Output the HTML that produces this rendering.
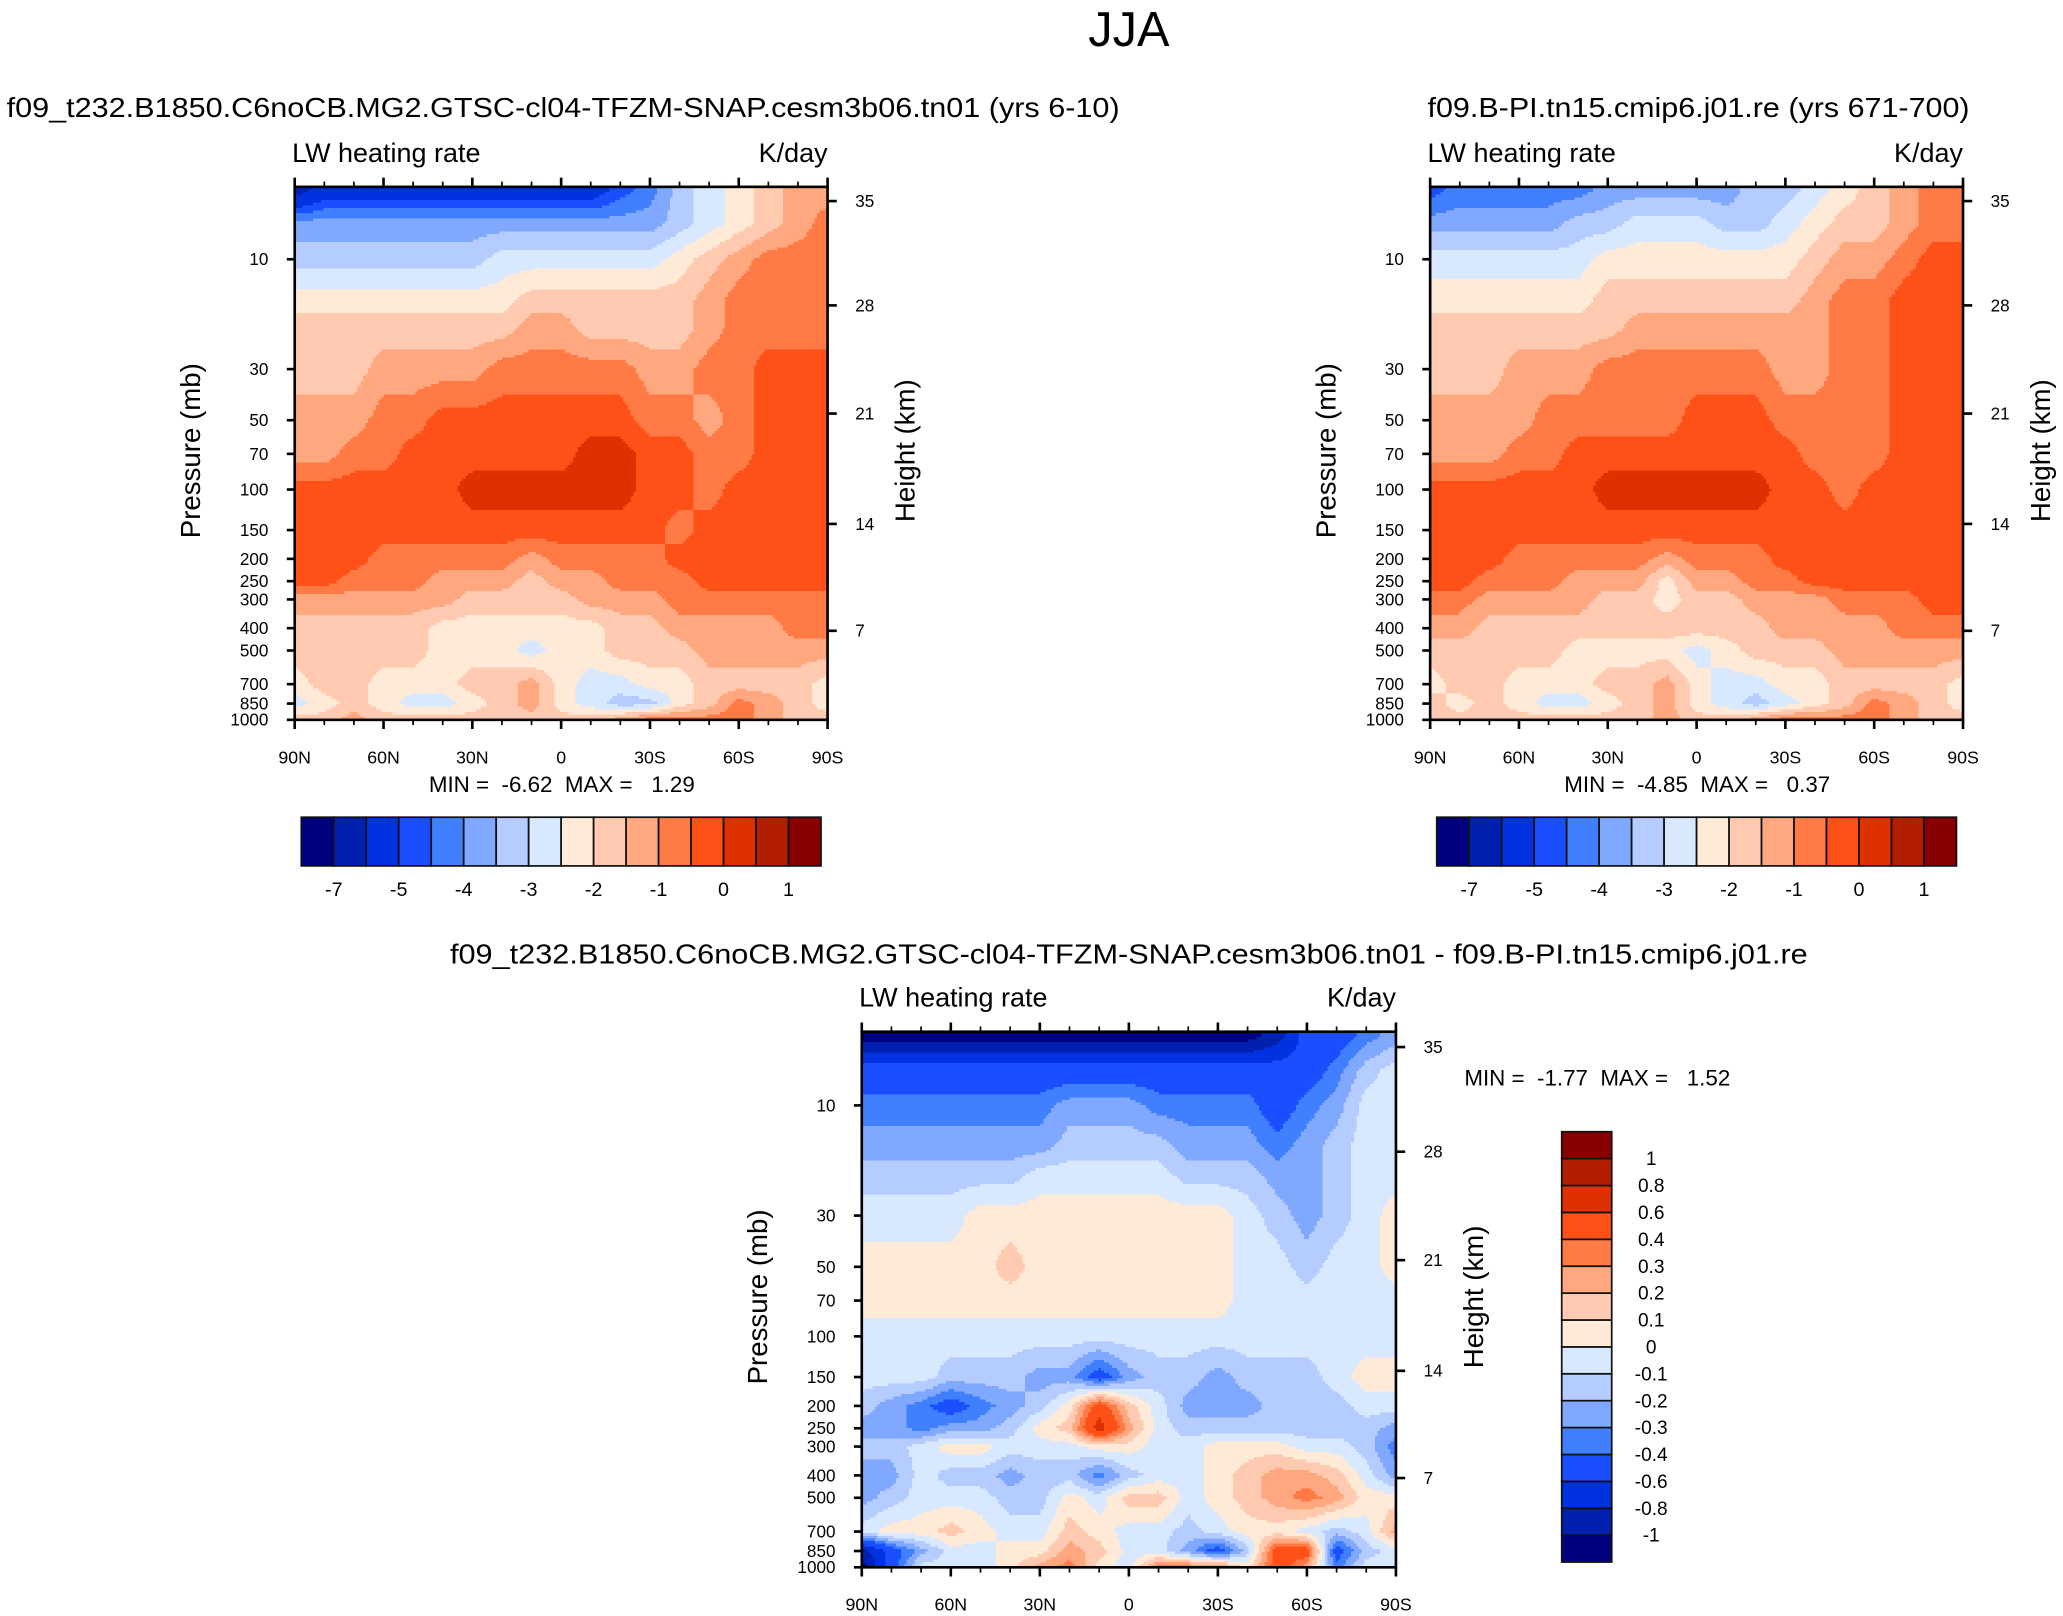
<!DOCTYPE html>
<html><head><meta charset="utf-8"><title>JJA LW heating rate</title>
<style>html,body{margin:0;padding:0;background:#fff}svg{display:block}text{font-family:"Liberation Sans",Arial,sans-serif;fill:#000}</style>
</head><body>
<svg id="fig" xmlns="http://www.w3.org/2000/svg" width="2063" height="1616" viewBox="0 0 1568 1228" preserveAspectRatio="none">
<text x="858" y="35" font-size="37" text-anchor="middle">JJA</text>
<text x="5" y="89" font-size="21" textLength="846" lengthAdjust="spacingAndGlyphs">f09_t232.B1850.C6noCB.MG2.GTSC-cl04-TFZM-SNAP.cesm3b06.tn01 (yrs 6-10)</text>
<text x="1085" y="89" font-size="21" textLength="412" lengthAdjust="spacingAndGlyphs">f09.B-PI.tn15.cmip6.j01.re (yrs 671-700)</text>
<text x="342" y="732" font-size="21" textLength="1032" lengthAdjust="spacingAndGlyphs">f09_t232.B1850.C6noCB.MG2.GTSC-cl04-TFZM-SNAP.cesm3b06.tn01 - f09.B-PI.tn15.cmip6.j01.re</text>
<g id="panels"></g>
</svg>
<script>
// ---- data ----
const latitudes = [90,80,70,60,50,40,30,20,10,0,-10,-20,-30,-40,-50,-60,-70,-80,-90];
const pressureLevels = [5,7,10,15,20,30,50,70,100,150,200,250,300,400,500,700,850,1000];
const levelsAbs = [-7,-6,-5,-4.5,-4,-3.5,-3,-2.5,-2,-1.5,-1,-0.5,0,0.5,1];
const levelsDiff = [-1,-0.8,-0.6,-0.4,-0.3,-0.2,-0.1,0,0.1,0.2,0.3,0.4,0.6,0.8,1];
const absTickLabels = ["-7","","-5","","-4","","-3","","-2","","-1","","0","","1"];
const diffTickLabels = ["-1","-0.8","-0.6","-0.4","-0.3","-0.2","-0.1","0","0.1","0.2","0.3","0.4","0.6","0.8","1"];
const pressureTicks = [10,30,50,70,100,150,200,250,300,400,500,700,850,1000];
const heightTicks = [35,28,21,14,7];
const latTickLabels = ["90N","60N","30N","0","30S","60S","90S"];
const palette = ['#000080','#0020b0','#0032e0','#1a4fff','#4080ff','#80a8ff','#b4ccff','#d8e8ff','#ffead8','#ffcab0','#ffa880','#ff7a45','#ff5018','#e03000','#b41e00','#880000'];

const caseA = [
[-6.5,-5.5,-5.5,-5.5,-5.5,-5.5,-5.5,-5.5,-5.5,-5.5,-5.5,-4.75,-4.25,-3.25,-2.75,-2.25,-1.75,-1.25,-1.25],
[-3.75,-3.75,-3.75,-3.75,-3.75,-3.75,-3.75,-3.75,-3.75,-3.75,-3.75,-3.75,-3.75,-3.25,-2.75,-2.25,-1.75,-1.25,-0.75],
[-3.25,-3.25,-3.25,-3.25,-3.25,-3.25,-3.25,-2.75,-2.75,-2.75,-2.75,-2.75,-2.75,-2.25,-1.75,-1.25,-0.75,-0.75,-0.75],
[-2.25,-2.25,-2.25,-2.25,-2.25,-2.25,-2.25,-2.25,-1.75,-1.75,-1.75,-1.75,-1.75,-1.75,-1.25,-0.75,-0.75,-0.75,-0.75],
[-1.75,-1.75,-1.75,-1.75,-1.75,-1.75,-1.75,-1.75,-1.25,-1.25,-1.75,-1.75,-1.75,-1.75,-1.25,-0.75,-0.75,-0.75,-0.75],
[-1.75,-1.75,-1.75,-1.25,-1.25,-1.25,-1.25,-0.75,-0.75,-0.75,-0.75,-0.75,-1.25,-1.25,-0.75,-0.75,-0.25,-0.25,-0.25],
[-1.25,-1.25,-1.25,-0.75,-0.75,-0.25,-0.25,-0.25,-0.25,-0.25,-0.25,-0.25,-0.75,-0.75,-1.25,-0.75,-0.25,-0.25,-0.25],
[-1.25,-1.25,-0.75,-0.75,-0.25,-0.25,-0.25,-0.25,-0.25,-0.25,0.25,0.25,-0.25,-0.25,-0.75,-0.75,-0.25,-0.25,-0.25],
[-0.25,-0.25,-0.25,-0.25,-0.25,-0.25,0.25,0.25,0.25,0.25,0.25,0.25,-0.25,-0.25,-0.75,-0.25,-0.25,-0.25,-0.25],
[-0.25,-0.25,-0.25,-0.25,-0.25,-0.25,-0.25,-0.25,-0.25,-0.25,-0.25,-0.25,-0.25,-0.75,-0.25,-0.25,-0.25,-0.25,-0.25],
[-0.25,-0.25,-0.25,-0.75,-0.75,-0.75,-0.75,-0.75,-1.25,-0.75,-0.75,-0.75,-0.75,-0.25,-0.25,-0.25,-0.25,-0.25,-0.25],
[-0.25,-0.25,-0.75,-0.75,-0.75,-1.25,-1.25,-1.25,-1.75,-1.25,-1.25,-0.75,-0.75,-0.75,-0.25,-0.25,-0.25,-0.25,-0.25],
[-1.25,-1.25,-1.25,-1.25,-1.25,-1.25,-1.75,-1.75,-1.75,-1.75,-1.25,-1.25,-1.25,-0.75,-0.75,-0.75,-0.75,-0.75,-0.75],
[-1.75,-1.75,-1.75,-1.75,-1.75,-2.25,-2.25,-2.25,-2.25,-2.25,-2.25,-1.75,-1.75,-1.25,-1.25,-1.25,-1.25,-0.75,-0.75],
[-1.75,-1.75,-1.75,-1.75,-1.75,-2.25,-2.25,-2.25,-2.75,-2.25,-2.25,-1.75,-1.75,-1.75,-1.25,-1.25,-1.25,-1.25,-1.25],
[-2.25,-1.75,-1.75,-2.25,-2.25,-2.25,-1.75,-1.75,-1.25,-2.25,-2.75,-2.75,-2.25,-2.25,-1.75,-1.75,-1.75,-1.75,-2.25],
[-2.75,-2.25,-1.75,-2.25,-2.75,-2.75,-2.25,-1.75,-1.25,-2.25,-2.75,-3.25,-3.25,-2.25,-1.75,-0.75,-1.25,-1.75,-2.25],
[-1.75,-1.75,-1.25,-1.75,-1.75,-1.75,-1.75,-1.75,-1.75,-1.75,-1.75,-1.25,-0.75,-0.75,-0.75,-0.75,-1.25,-1.75,-1.75]
];
const caseB = [
[-4.75,-4.25,-4.25,-4.25,-4.25,-4.25,-3.75,-3.75,-3.75,-3.75,-3.75,-3.25,-3.25,-2.75,-2.25,-1.75,-1.25,-0.75,-0.75],
[-3.75,-3.75,-3.75,-3.75,-3.75,-3.25,-3.25,-2.75,-2.75,-2.75,-3.25,-3.25,-2.75,-2.25,-1.75,-1.75,-1.25,-0.75,-0.75],
[-2.75,-2.75,-2.75,-2.75,-2.75,-2.75,-2.25,-2.25,-2.25,-2.25,-2.25,-2.25,-2.25,-1.75,-1.25,-1.25,-0.75,-0.25,-0.25],
[-2.25,-2.25,-2.25,-2.25,-2.25,-2.25,-1.75,-1.75,-1.75,-1.75,-1.75,-1.75,-1.75,-1.25,-0.75,-0.75,-0.25,-0.25,-0.25],
[-1.75,-1.75,-1.75,-1.75,-1.75,-1.75,-1.75,-1.25,-1.25,-1.25,-1.25,-1.25,-1.25,-1.25,-0.75,-0.75,-0.25,-0.25,-0.25],
[-1.75,-1.75,-1.75,-1.25,-1.25,-1.25,-0.75,-0.75,-0.75,-0.75,-0.75,-0.75,-1.25,-1.25,-0.75,-0.75,-0.25,-0.25,-0.25],
[-1.25,-1.25,-1.25,-1.25,-0.75,-0.75,-0.75,-0.75,-0.75,-0.25,-0.25,-0.25,-0.75,-0.75,-0.75,-0.75,-0.25,-0.25,-0.25],
[-1.25,-1.25,-1.25,-0.75,-0.75,-0.25,-0.25,-0.25,-0.25,-0.25,-0.25,-0.25,-0.25,-0.75,-0.75,-0.75,-0.25,-0.25,-0.25],
[-0.25,-0.25,-0.25,-0.25,-0.25,-0.25,0.25,0.25,0.25,0.25,0.25,0.25,-0.25,-0.25,-0.75,-0.25,-0.25,-0.25,-0.25],
[-0.25,-0.25,-0.25,-0.25,-0.25,-0.25,-0.25,-0.25,-0.25,-0.25,-0.25,-0.25,-0.25,-0.25,-0.25,-0.25,-0.25,-0.25,-0.25],
[-0.25,-0.25,-0.25,-0.75,-0.75,-0.75,-0.75,-0.75,-1.25,-0.75,-0.75,-0.75,-0.25,-0.25,-0.25,-0.25,-0.25,-0.25,-0.25],
[-0.25,-0.25,-0.75,-0.75,-0.75,-1.25,-1.25,-1.25,-2.25,-1.25,-1.25,-0.75,-0.75,-0.25,-0.25,-0.25,-0.25,-0.25,-0.25],
[-0.75,-0.75,-1.25,-1.25,-1.25,-1.25,-1.75,-1.75,-2.25,-1.75,-1.75,-1.25,-1.25,-1.25,-0.75,-0.75,-0.75,-0.25,-0.25],
[-1.25,-1.25,-1.75,-1.75,-1.75,-1.75,-1.75,-1.75,-1.75,-1.75,-1.75,-1.75,-1.25,-1.25,-1.25,-1.25,-0.75,-0.75,-0.75],
[-1.75,-1.75,-1.75,-1.75,-1.75,-2.25,-2.25,-2.25,-2.25,-2.75,-2.25,-1.75,-1.75,-1.75,-1.25,-1.25,-1.25,-1.25,-1.25],
[-2.25,-1.75,-1.75,-2.25,-2.25,-2.25,-1.75,-1.75,-1.25,-2.25,-2.75,-2.75,-2.25,-2.25,-1.75,-1.75,-1.75,-1.75,-2.25],
[-1.75,-2.25,-1.75,-2.25,-2.75,-2.75,-2.25,-1.75,-1.25,-2.25,-2.75,-3.25,-2.75,-2.25,-1.75,-0.75,-1.25,-1.75,-2.25],
[-1.75,-1.75,-1.75,-1.75,-1.75,-1.75,-1.75,-1.75,-1.25,-1.75,-1.75,-1.25,-0.75,-0.75,-0.75,-0.75,-1.25,-1.75,-1.75]
];
const diffAB = [
[-1.1,-1.1,-1.1,-1.1,-1.1,-1.1,-1.1,-1.1,-1.1,-1.1,-1.1,-1.1,-1.1,-1.1,-0.9,-0.5,-0.5,-0.35,-0.25],
[-0.5,-0.5,-0.5,-0.5,-0.5,-0.5,-0.5,-0.5,-0.5,-0.5,-0.5,-0.5,-0.5,-0.5,-0.5,-0.5,-0.35,-0.15,-0.05],
[-0.35,-0.35,-0.35,-0.35,-0.35,-0.35,-0.35,-0.25,-0.25,-0.25,-0.35,-0.35,-0.35,-0.35,-0.5,-0.35,-0.25,-0.05,-0.05],
[-0.25,-0.25,-0.25,-0.25,-0.25,-0.25,-0.25,-0.15,-0.15,-0.15,-0.15,-0.25,-0.25,-0.25,-0.35,-0.25,-0.15,-0.05,-0.05],
[-0.15,-0.15,-0.15,-0.15,-0.15,-0.15,-0.05,-0.05,-0.05,-0.05,-0.05,-0.15,-0.15,-0.15,-0.25,-0.25,-0.15,-0.05,-0.05],
[-0.05,-0.05,-0.05,-0.05,0.05,0.05,0.05,0.05,0.05,0.05,0.05,0.05,0.05,-0.05,-0.15,-0.25,-0.15,-0.05,0.05],
[0.05,0.05,0.05,0.05,0.05,0.15,0.05,0.05,0.05,0.05,0.05,0.05,0.05,-0.05,-0.05,-0.15,-0.05,-0.05,0.05],
[0.05,0.05,0.05,0.05,0.05,0.05,0.05,0.05,0.05,0.05,0.05,0.05,0.05,-0.05,-0.05,-0.05,-0.05,-0.05,-0.05],
[-0.05,-0.05,-0.05,-0.05,-0.05,-0.05,-0.05,-0.05,-0.05,-0.05,-0.05,-0.05,-0.05,-0.05,-0.05,-0.05,-0.05,-0.05,-0.05],
[-0.05,-0.05,-0.05,-0.15,-0.15,-0.15,-0.25,-0.25,-0.5,-0.25,-0.15,-0.15,-0.25,-0.15,-0.15,-0.15,-0.05,0.05,0.05],
[-0.15,-0.25,-0.35,-0.5,-0.35,-0.25,-0.15,0.05,0.5,0.15,-0.05,-0.25,-0.25,-0.25,-0.15,-0.15,-0.15,-0.05,-0.05],
[-0.25,-0.25,-0.35,-0.25,-0.25,-0.15,0.05,0.15,0.7,0.25,-0.05,-0.15,-0.15,-0.15,-0.15,-0.15,-0.15,-0.15,-0.25],
[-0.15,-0.15,-0.05,0.05,0.05,-0.05,-0.05,-0.05,0.05,0.05,-0.05,-0.05,0.05,0.05,0.05,-0.05,-0.05,-0.15,-0.35],
[-0.25,-0.25,-0.05,-0.15,-0.15,-0.25,-0.15,-0.15,-0.35,-0.15,-0.05,-0.05,0.05,0.15,0.25,0.25,0.15,-0.05,-0.25],
[-0.25,-0.15,-0.05,-0.05,-0.05,-0.15,-0.15,0.05,-0.05,0.15,0.15,-0.05,0.05,0.15,0.25,0.35,0.25,0.05,0.05],
[-0.05,0.05,0.05,0.15,0.05,-0.05,-0.05,0.15,0.05,-0.05,-0.05,-0.15,-0.05,0.05,0.05,-0.05,-0.15,-0.05,0.25],
[-0.9,-0.5,-0.25,-0.05,-0.05,0.05,0.05,0.25,0.15,-0.05,-0.05,-0.25,-0.5,-0.15,0.5,0.5,-0.5,-0.15,-0.05],
[-1.1,-0.5,-0.05,-0.05,-0.05,0.05,0.25,0.35,0.05,-0.05,0.35,0.35,0.35,0.05,0.5,0.25,-0.35,-0.05,-0.05]
];

// ---- drawing ----
const NS = "http://www.w3.org/2000/svg";
const root = document.getElementById('panels');
function mk(tag, attrs, parent) {
  const el = document.createElementNS(NS, tag);
  for (const k in attrs) el.setAttribute(k, attrs[k]);
  (parent || root).appendChild(el);
  return el;
}
function levelIndex(v, levels) { let k = 0; while (k < levels.length && v >= levels[k]) k++; return k; }
// US standard atmosphere: height (km) -> pressure (mb)
function stdPressure(z) {
  if (z <= 11) return 1013.25 * Math.pow(1 - z / 44.33, 5.255);
  if (z <= 20) return 226.32 * Math.exp(-(z - 11) / 6.34);
  if (z <= 32) return 54.75 * Math.pow(216.65 / (216.65 + (z - 20)), 34.16);
  return 8.68 * Math.pow(228.65 / (228.65 + 2.8 * (z - 32)), 12.2);
}
const logP = pressureLevels.map(p => Math.log10(p));
function sample(data, col, lp) {
  let r = 0, t = 0;
  if (lp <= logP[0]) { r = 0; t = 0; }
  else if (lp >= logP[logP.length - 1]) { r = logP.length - 2; t = 1; }
  else { while (logP[r + 1] < lp) r++; t = (lp - logP[r]) / (logP[r + 1] - logP[r]); }
  const c0 = Math.max(0, Math.min(latitudes.length - 2, Math.floor(col)));
  const s = Math.max(0, Math.min(1, col - c0));
  const a = data[r][c0] * (1 - s) + data[r][c0 + 1] * s;
  const b = data[r + 1][c0] * (1 - s) + data[r + 1][c0 + 1] * s;
  return a * (1 - t) + b * t;
}

function panel(name, x0, y0, w, h, pdec, data, levels) {
  const g = mk('g', {});
  
  
  const xOfLat = lat => x0 + (90 - lat) / 180 * w;
  const yOfP = p => y0 + h - (3 - Math.log10(p)) * pdec;
  const step = 2;
  const nx = Math.round(w / step), ny = Math.round(h / step);
  const cells = mk('g', {'shape-rendering': 'crispEdges'}, g);
  
  
  for (let j = 0; j < ny; j++) {
    const yc = y0 + (j + 0.5) * h / ny;
    const lp = 3 - (y0 + h - yc) / pdec;
    let runStart = 0, runIdx = -1;
    for (let i = 0; i <= nx; i++) {
      let idx = -2;
      if (i < nx) {
        const xc = x0 + (i + 0.5) * w / nx;
        const lat = 90 - (xc - x0) / w * 180;
        const col = (90 - lat) / 10;
        idx = levelIndex(sample(data, col, lp), levels);
      }
      if (idx !== runIdx) {
        if (runIdx >= 0) {
          const r = mk('rect', {x: (x0 + runStart * w / nx).toFixed(2), y: (y0 + j * h / ny).toFixed(2), width: ((i - runStart) * w / nx + 0.4).toFixed(2), height: (h / ny + 0.4).toFixed(2), fill: palette[runIdx]}, cells);
          
          
        }
        runStart = i; runIdx = idx;
      }
    }
  }
  const frame = mk('rect', {x: x0, y: y0, width: w, height: h, fill: 'none', stroke: '#000', 'stroke-width': 2}, g);
  
  
  for (let lat = 90; lat >= -90; lat -= 10) {
    const x = xOfLat(lat), major = lat % 30 === 0, L = major ? 7 : 4;
    const t1 = mk('line', {x1: x, x2: x, y1: y0, y2: y0 - L, stroke: '#000', 'stroke-width': major ? 2 : 1.3}, g);
    
    
    const t2 = mk('line', {x1: x, x2: x, y1: y0 + h, y2: y0 + h + L, stroke: '#000', 'stroke-width': major ? 2 : 1.3}, g);
    
    
  }
  latTickLabels.forEach((lab, k) => {
    const t = mk('text', {x: x0 + k * w / 6, y: y0 + h + 33, 'font-size': 13.5, 'text-anchor': 'middle'}, g);
    
    
    t.textContent = lab;
  });
  pressureTicks.forEach(p => {
    const y = yOfP(p);
    const tk = mk('line', {x1: x0, x2: x0 - 6, y1: y, y2: y, stroke: '#000', 'stroke-width': 2}, g);
    
    
    const t = mk('text', {x: x0 - 20, y: y + 4.5, 'font-size': 13, 'text-anchor': 'end'}, g);
    
    
    t.textContent = p;
  });
  heightTicks.forEach(km => {
    const y = yOfP(stdPressure(km));
    const tk = mk('line', {x1: x0 + w, x2: x0 + w + 7, y1: y, y2: y, stroke: '#000', 'stroke-width': 2}, g);
    
    
    const t = mk('text', {x: x0 + w + 21, y: y + 4.5, 'font-size': 13}, g);
    
    
    t.textContent = km;
  });
  const lt = mk('text', {x: x0 - 2, y: y0 - 19, 'font-size': 20.5}, g);
  
  
  lt.textContent = 'LW heating rate';
  const ut = mk('text', {x: x0 + w, y: y0 - 19, 'font-size': 20.5, 'text-anchor': 'end'}, g);
  
  
  ut.textContent = 'K/day';
  const yt = mk('text', {transform: `translate(${x0 - 72},${y0 + h / 2 - 2}) rotate(-90)`, 'font-size': 21, 'text-anchor': 'middle'}, g);
  
  
  yt.textContent = 'Pressure (mb)';
  const ht = mk('text', {transform: `translate(${x0 + w + 66},${y0 + h / 2 - 2}) rotate(-90)`, 'font-size': 21, 'text-anchor': 'middle'}, g);
  
  
  ht.textContent = 'Height (km)';
  return g;
}

function hColorbar(name, x0, y0, w, h, labels) {
  const g = mk('g', {});
  
  
  const bw = w / palette.length;
  palette.forEach((c, k) => {
    const r = mk('rect', {x: x0 + k * bw, y: y0, width: bw, height: h, fill: c, stroke: '#111', 'stroke-width': 1.3}, g);
    
    
  });
  labels.forEach((lab, k) => {
    if (!lab) return;
    const t = mk('text', {x: x0 + (k + 1) * bw, y: y0 + h + 23, 'font-size': 15, 'text-anchor': 'middle'}, g);
    
    
    t.textContent = lab;
  });
}
function vColorbar(name, x0, y0, w, h, labels) {
  const g = mk('g', {});
  
  
  const bh = h / palette.length;
  palette.forEach((c, k) => {
    const r = mk('rect', {x: x0, y: y0 + h - (k + 1) * bh, width: w, height: bh, fill: c, stroke: '#111', 'stroke-width': 1.3}, g);
    
    
  });
  labels.forEach((lab, k) => {
    const t = mk('text', {x: x0 + w + 30, y: y0 + h - (k + 1) * bh + 5, 'font-size': 14.5, 'text-anchor': 'middle'}, g);
    
    
    t.textContent = lab;
  });
}
function stat(name, x, y, anchor, txt) {
  const t = mk('text', {x: x, y: y, 'font-size': 17, 'text-anchor': anchor});
  
  
  t.style.whiteSpace = 'pre';
  t.textContent = txt;
}

panel('left-panel', 224, 142, 405, 405, 175, caseA, levelsAbs);
panel('right-panel', 1087, 142, 405, 405, 175, caseB, levelsAbs);
panel('diff-panel', 655, 784, 406, 407, 175.5, diffAB, levelsDiff);
hColorbar('left-colorbar', 229, 621, 395, 37, absTickLabels);
hColorbar('right-colorbar', 1092, 621, 395, 37, absTickLabels);
vColorbar('diff-colorbar', 1187, 860, 38, 327, diffTickLabels);
stat('left-min-max', 427, 602, 'middle', 'MIN =  -6.62  MAX =   1.29');
stat('right-min-max', 1290, 602, 'middle', 'MIN =  -4.85  MAX =   0.37');
stat('diff-min-max', 1113, 825, 'start', 'MIN =  -1.77  MAX =   1.52');
</script>
</body></html>
